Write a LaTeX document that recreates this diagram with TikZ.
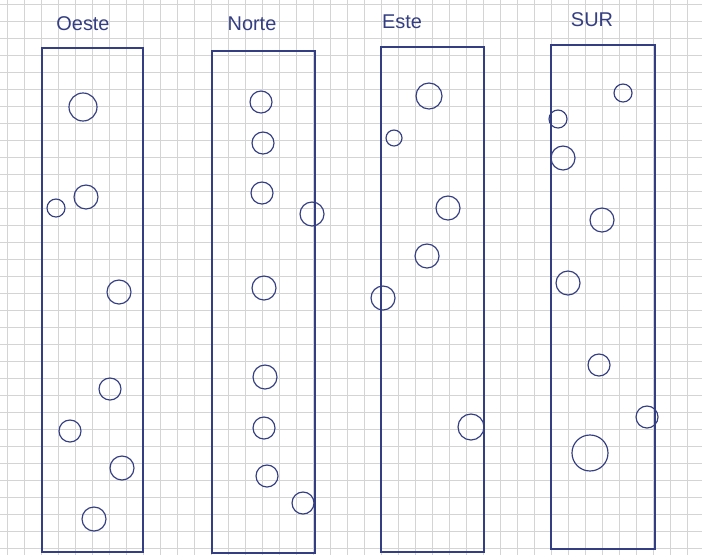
\documentclass[tikz,border=0pt]{standalone}
\usepackage{fontspec}
\setmainfont{Liberation Sans}
\usepackage{tikz}
\definecolor{tinta}{RGB}{52,62,130}
\definecolor{cuadro}{RGB}{212,212,212}

\begin{document}
\begin{tikzpicture}[x=0.03cm,y=-0.03cm]
  \useasboundingbox (0,0) rectangle (702,555);
  % Papel cuadriculado
  \fill[white] (0,0) rectangle (702,555);
  \foreach \i in {7,24,...,702} {
    \draw[cuadro,line width=0.4pt] (\i,0) -- (\i,555);
  }
  \foreach \j in {4,21,...,555} {
    \draw[cuadro,line width=0.4pt] (0,\j) -- (702,\j);
  }

  % Columnas
  \draw[tinta,line width=1.1pt] (42,48) rectangle (143,552);
  \draw[tinta,line width=1.1pt] (212,51) rectangle (315,553);
  \draw[tinta,line width=1.1pt] (381,47) rectangle (484,552);
  \draw[tinta,line width=1.1pt] (551,45) rectangle (655,549);

  % Titulos
  \node[tinta,font=\fontsize{17}{19}\selectfont] (oeste) at (83,24) {Oeste};
  \node[tinta,font=\fontsize{17}{19}\selectfont] (norte) at (252,24) {Norte};
  \node[tinta,font=\fontsize{17}{19}\selectfont] (este) at (402,22) {Este};
  \node[tinta,font=\fontsize{17}{19}\selectfont] (sur) at (592,20) {SUR};

  % Circulos de cada columna
  \foreach \x/\y/\r in {83/107/14,56/208/9,86/197/12,119/292/12,110/389/11,
                        70/431/11,122/468/12,94/519/12} {
    \draw[tinta,line width=1pt] (\x,\y) circle (\r);
  }
  \foreach \x/\y/\r in {261/102/11,263/143/11,262/193/11,312/214/12,264/288/12,
                        265/377/12,264/428/11,267/476/11,303/503/11} {
    \draw[tinta,line width=1pt] (\x,\y) circle (\r);
  }
  \foreach \x/\y/\r in {429/96/13,394/138/8,448/208/12,427/256/12,383/298/12,
                        471/427/13} {
    \draw[tinta,line width=1pt] (\x,\y) circle (\r);
  }
  \foreach \x/\y/\r in {623/93/9,558/119/9,563/158/12,602/220/12,568/283/12,
                        599/365/11,647/417/11,590/453/18} {
    \draw[tinta,line width=1pt] (\x,\y) circle (\r);
  }
\end{tikzpicture}
\end{document}
